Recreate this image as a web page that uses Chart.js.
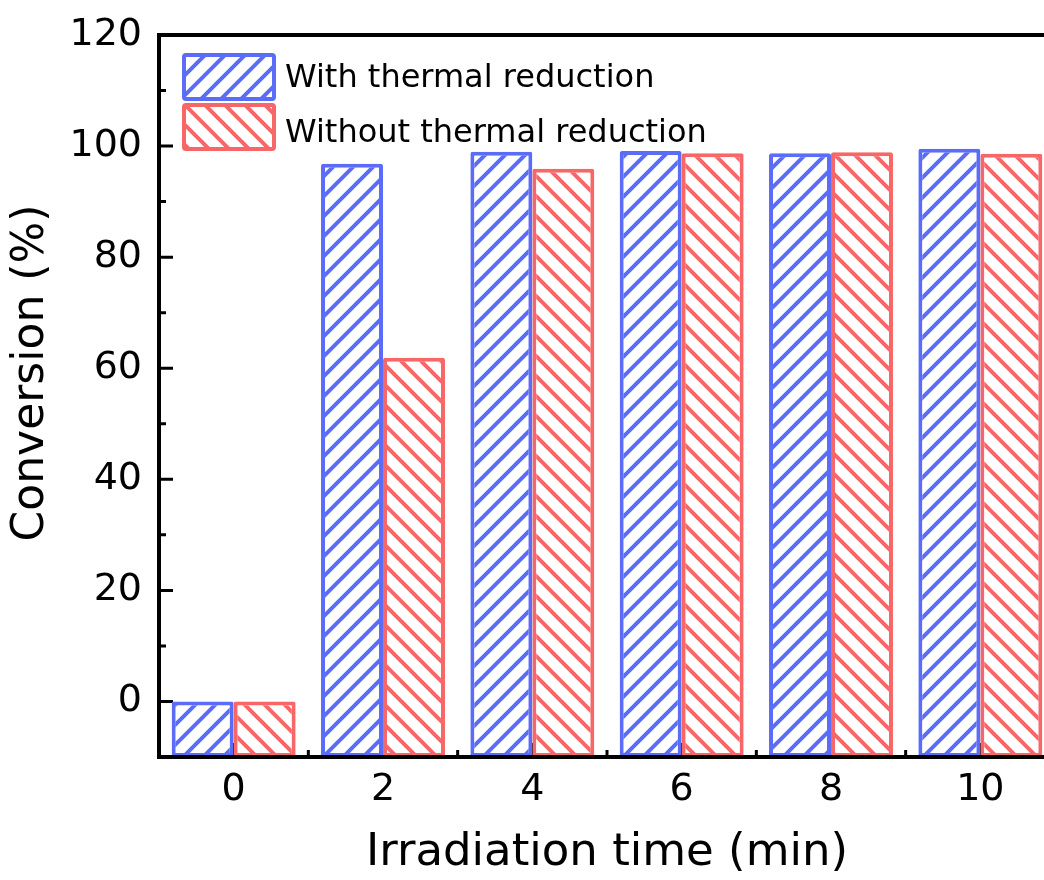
<!DOCTYPE html>
<html>
<head>
<meta charset="utf-8">
<script src="https://cdn.jsdelivr.net/npm/chart.js@4.4.1/dist/chart.umd.min.js"></script>
<style>
  html, body { margin: 0; padding: 0; background: #fff; overflow: hidden; }
  #wrap { position: absolute; left: 0; top: 0; width: 1070px; height: 880px; }
</style>
</head>
<body>
<div id="wrap"><canvas id="convChart"></canvas></div>
<script>
const timeLabels = ['0', '2', '4', '6', '8', '10'];
const withThermal = [0, 96.8, 99.0, 99.1, 98.7, 99.5];
const withoutThermal = [0, 61.9, 95.9, 98.7, 98.9, 98.6];
const yTicks = [0, 20, 40, 60, 80, 100, 120];
const yMinorTicks = [10, 30, 50, 70, 90, 110];

const FONT = '"DejaVu Sans"';
const BLUE = '#5b6cf8';
const RED = '#f86767';

function makeHatch(color, forward) {
    const c = document.createElement('canvas');
    c.width = 20;
    c.height = 20;
    const x = c.getContext('2d');
    x.fillStyle = '#fff';
    x.fillRect(0, 0, 20, 20);
    x.strokeStyle = color;
    x.lineWidth = 4;
    x.beginPath();
    if (forward) {
        x.moveTo(-5, 25); x.lineTo(25, -5);
        x.moveTo(-5, 5); x.lineTo(5, -5);
        x.moveTo(15, 25); x.lineTo(25, 15);
    } else {
        x.moveTo(-5, -5); x.lineTo(25, 25);
        x.moveTo(15, -5); x.lineTo(25, 5);
        x.moveTo(-5, 15); x.lineTo(5, 25);
    }
    x.stroke();
    return x.createPattern(c, 'repeat');
}

const blueHatch = makeHatch(BLUE, true);
const redHatch = makeHatch(RED, false);

// axes frame, inward ticks, y title and the legend inside the plot
const framePlugin = {
    id: 'frame',
    beforeDatasetsDraw(chart) {
        const ctx = chart.ctx;
        const area = chart.chartArea;
        const y = chart.scales.y;
        const xs = chart.scales.x;
        ctx.save();
        ctx.strokeStyle = '#000';
        ctx.lineWidth = 3;
        ctx.beginPath();
        yTicks.forEach(v => {
            const py = y.getPixelForValue(v);
            ctx.moveTo(area.left, py);
            ctx.lineTo(area.left + 14, py);
        });
        yMinorTicks.forEach(v => {
            const py = y.getPixelForValue(v);
            ctx.moveTo(area.left, py);
            ctx.lineTo(area.left + 7, py);
        });
        const half = (xs.getPixelForValue(1) - xs.getPixelForValue(0)) / 2;
        for (let i = 0; i < timeLabels.length; i++) {
            const px = xs.getPixelForValue(i);
            ctx.moveTo(px, area.bottom);
            ctx.lineTo(px, area.bottom - 14);
            ctx.moveTo(px + half, area.bottom);
            ctx.lineTo(px + half, area.bottom - 7);
        }
        ctx.stroke();
        ctx.restore();
    },
    afterDatasetsDraw(chart) {
        const ctx = chart.ctx;
        const area = chart.chartArea;
        ctx.save();
        ctx.strokeStyle = '#000';
        ctx.lineWidth = 4;
        ctx.beginPath();
        ctx.moveTo(area.left, area.bottom);
        ctx.lineTo(chart.width, area.bottom);
        ctx.moveTo(area.left, area.bottom + 2);
        ctx.lineTo(area.left, area.top - 2);
        ctx.moveTo(area.left - 2, area.top);
        ctx.lineTo(chart.width, area.top);
        ctx.stroke();

        // legend
        const items = [
            { text: chart.data.datasets[0].label, fill: blueHatch, color: BLUE },
            { text: chart.data.datasets[1].label, fill: redHatch, color: RED }
        ];
        const bx = area.left + 23;
        ctx.font = '32px ' + FONT;
        ctx.textBaseline = 'alphabetic';
        items.forEach((it, i) => {
            const by = area.top + 18 + i * 50;
            ctx.fillStyle = it.fill;
            ctx.fillRect(bx + 2, by + 2, 90, 44);
            ctx.strokeStyle = it.color;
            ctx.lineWidth = 4;
            ctx.beginPath();
            ctx.roundRect(bx + 2, by + 2, 90, 44, 2);
            ctx.stroke();
            ctx.fillStyle = '#000';
            ctx.fillText(it.text, bx + 103, area.top + 52 + i * 54.5);
        });

        // y axis title
        ctx.translate(43, (area.top + area.bottom) / 2 - 23);
        ctx.rotate(-Math.PI / 2);
        ctx.font = '44px ' + FONT;
        ctx.textAlign = 'center';
        ctx.fillStyle = '#000';
        ctx.fillText('Conversion (%)', 0, 0);
        ctx.restore();
    }
};

const ctx = document.getElementById('convChart');
new Chart(ctx, {
    type: 'bar',
    data: {
        labels: timeLabels,
        datasets: [{
            label: 'With thermal reduction',
            data: withThermal,
            base: -10,
            backgroundColor: blueHatch,
            borderColor: BLUE,
            borderWidth: 4,
            borderSkipped: false,
            borderRadius: 2
        }, {
            label: 'Without thermal reduction',
            data: withoutThermal,
            base: -10,
            backgroundColor: redHatch,
            borderColor: RED,
            borderWidth: 4,
            borderSkipped: false,
            borderRadius: 2
        }]
    },
    options: {
        responsive: true,
        maintainAspectRatio: false,
        animation: false,
        layout: {
            padding: { top: 35, right: 15, left: 0, bottom: 0 }
        },
        plugins: {
            legend: { display: false },
            tooltip: { enabled: false }
        },
        datasets: {
            bar: {
                categoryPercentage: 0.83,
                barPercentage: 1.0
            }
        },
        scales: {
            x: {
                grid: { display: false, drawTicks: false },
                border: { display: false },
                ticks: {
                    color: '#000',
                    padding: 10,
                    font: { family: FONT, size: 38 }
                },
                title: {
                    display: true,
                    text: 'Irradiation time (min)',
                    color: '#000',
                    padding: { top: 5, bottom: 0 },
                    font: { family: FONT, size: 45 }
                },
                afterFit(scale) {
                    scale.height = 123;
                }
            },
            y: {
                min: -10,
                max: 120,
                grid: { display: false, drawTicks: false },
                border: { display: false },
                ticks: {
                    color: '#000',
                    padding: 17,
                    font: { family: FONT, size: 38, lineHeight: 0.9 }
                },
                afterBuildTicks(scale) {
                    scale.ticks = yTicks.map(v => ({ value: v }));
                },
                afterFit(scale) {
                    scale.width = 159;
                }
            }
        }
    },
    plugins: [framePlugin]
});
</script>
</body>
</html>
